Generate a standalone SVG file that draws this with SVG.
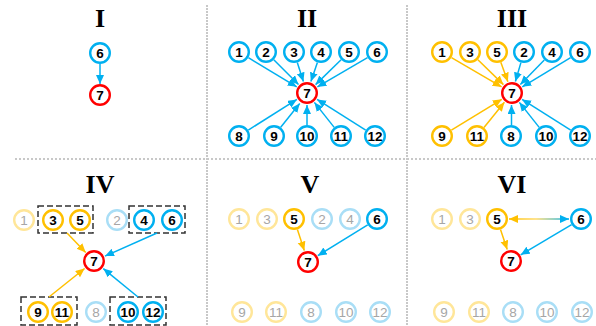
<svg xmlns="http://www.w3.org/2000/svg" width="596" height="326" viewBox="0 0 596 326">
<style>
.title{font-family:"Liberation Serif",serif;font-weight:bold;font-size:26px;text-anchor:middle;fill:#000}
.n circle{fill:#fff;stroke-width:2.4}
.n text{font-family:"Liberation Sans",Arial,sans-serif;font-size:13.5px;font-weight:bold;text-anchor:middle;fill:#000}
.b circle{stroke:#00B0F0}
.o circle{stroke:#FFC000}
.r circle{stroke:#FF0000}
.fb circle{stroke:#A9DEF6}
.fo circle{stroke:#FFE699}
.fb text,.fo text{font-weight:normal;fill:#A6A6A6}
.eb{stroke:#00B0F0;stroke-width:1.5;fill:none;marker-end:url(#ab)}
.eo{stroke:#FFC000;stroke-width:1.5;fill:none;marker-end:url(#ao)}
.box{fill:none;stroke:#333;stroke-width:1.5;stroke-dasharray:6 3}
.sep{stroke:#C8C8C8;stroke-width:2;fill:none}
</style>
<defs>
<marker id="ab" markerUnits="userSpaceOnUse" markerWidth="10" markerHeight="9" refX="9" refY="4" orient="auto"><path d="M0,0 L9,4 L0,8 z" fill="#00B0F0"/></marker>
<marker id="ao" markerUnits="userSpaceOnUse" markerWidth="10" markerHeight="9" refX="9" refY="4" orient="auto"><path d="M0,0 L9,4 L0,8 z" fill="#FFC000"/></marker>
<marker id="aos" markerUnits="userSpaceOnUse" markerWidth="10" markerHeight="9" refX="9" refY="4" orient="auto-start-reverse"><path d="M0,0 L9,4 L0,8 z" fill="#FFC000"/></marker>
<linearGradient id="g56" gradientUnits="userSpaceOnUse" x1="509" y1="0" x2="569" y2="0"><stop offset="0" stop-color="#FFC000"/><stop offset="0.45" stop-color="#FFD966"/><stop offset="1" stop-color="#00B0F0"/></linearGradient>
</defs>
<g id="separators">
<line class="sep" x1="207" y1="5" x2="207" y2="326" stroke-dasharray="2 1"/>
<line class="sep" x1="407" y1="5" x2="407" y2="326" stroke-dasharray="2 1"/>
<line class="sep" x1="15" y1="159" x2="596" y2="159" stroke-dasharray="2 2"/>
</g>
<g id="titles">
<text class="title" x="100" y="27">I</text>
<text class="title" x="307" y="27">II</text>
<text class="title" x="512" y="27">III</text>
<text class="title" x="100" y="193">IV</text>
<text class="title" x="310" y="193">V</text>
<text class="title" x="512" y="193">VI</text>
</g>
<g id="boxes">
<rect class="box" x="38" y="206" width="55" height="27"/>
<rect class="box" x="129" y="206" width="56" height="27"/>
<rect class="box" x="21" y="297" width="56" height="28"/>
<rect class="box" x="110" y="297" width="56" height="28"/>
</g>
<g id="connectors">
<line class="eb" x1="100" y1="64" x2="100" y2="84"/>
<line class="eb" x1="248.4" y1="57.7" x2="296.7" y2="86.8"/>
<line class="eb" x1="273.8" y1="59.8" x2="298.5" y2="84.5"/>
<line class="eb" x1="297.3" y1="62.5" x2="303.4" y2="81.6"/>
<line class="eb" x1="317.4" y1="62.4" x2="310.9" y2="81.6"/>
<line class="eb" x1="341.1" y1="59.7" x2="315.6" y2="84.6"/>
<line class="eb" x1="367.5" y1="57.6" x2="317.4" y2="86.9"/>
<line class="eb" x1="248.3" y1="130.1" x2="296.9" y2="99.4"/>
<line class="eb" x1="280.7" y1="127.3" x2="299.7" y2="103.5"/>
<line class="eb" x1="307" y1="125" x2="307" y2="105"/>
<line class="eb" x1="334.2" y1="127.4" x2="314.4" y2="102.4"/>
<line class="eb" x1="365.7" y1="130.1" x2="317.1" y2="99.4"/>
<line class="eo" x1="451.5" y1="57.6" x2="501.6" y2="86.9"/>
<line class="eo" x1="477.9" y1="59.7" x2="503.4" y2="84.6"/>
<line class="eo" x1="500.8" y1="62.3" x2="507.9" y2="81.7"/>
<line class="eb" x1="520.9" y1="62.6" x2="515.4" y2="81.5"/>
<line class="eb" x1="544.3" y1="59.9" x2="520.4" y2="84.4"/>
<line class="eb" x1="570.6" y1="57.7" x2="522.3" y2="86.8"/>
<line class="eo" x1="451.4" y1="130.2" x2="501.8" y2="99.3"/>
<line class="eo" x1="484" y1="127.5" x2="504.4" y2="102.3"/>
<line class="eb" x1="511.5" y1="125" x2="511.5" y2="105"/>
<line class="eb" x1="539.2" y1="127.4" x2="519.4" y2="102.4"/>
<line class="eb" x1="570.7" y1="130.1" x2="522.1" y2="99.4"/>
<line class="eo" x1="67" y1="233" x2="85.7" y2="252.4"/>
<line class="eb" x1="157" y1="233" x2="105" y2="256.1"/>
<line class="eo" x1="49" y1="297" x2="84.6" y2="268.5"/>
<line class="eb" x1="138" y1="297" x2="103.3" y2="268.6"/>
<line class="eo" x1="297.4" y1="229.5" x2="304.3" y2="250.6"/>
<line class="eb" x1="367.7" y1="224.8" x2="317.8" y2="255.7"/>
<line class="eo" x1="500.5" y1="229.4" x2="507.2" y2="249.6"/>
<line class="eb" x1="571.6" y1="224.7" x2="520.7" y2="254.8"/>
<path d="M509,219 L569,219.01" stroke="url(#g56)" stroke-width="1.5" fill="none" marker-start="url(#aos)" marker-end="url(#ab)"/>
</g>
<g id="p1-6" class="n b"><circle cx="100" cy="53" r="9.8"/><text x="100" y="57.8">6</text></g>
<g id="p1-7" class="n r"><circle cx="100" cy="95" r="9.8"/><text x="100" y="99.8">7</text></g>
<g id="p2-1" class="n b"><circle cx="239" cy="52" r="9.8"/><text x="239" y="56.8">1</text></g>
<g id="p2-2" class="n b"><circle cx="266" cy="52" r="9.8"/><text x="266" y="56.8">2</text></g>
<g id="p2-3" class="n b"><circle cx="294" cy="52" r="9.8"/><text x="294" y="56.8">3</text></g>
<g id="p2-4" class="n b"><circle cx="321" cy="52" r="9.8"/><text x="321" y="56.8">4</text></g>
<g id="p2-5" class="n b"><circle cx="349" cy="52" r="9.8"/><text x="349" y="56.8">5</text></g>
<g id="p2-6" class="n b"><circle cx="377" cy="52" r="9.8"/><text x="377" y="56.8">6</text></g>
<g id="p2-7" class="n r"><circle cx="307" cy="93" r="9.8"/><text x="307" y="97.8">7</text></g>
<g id="p2-8" class="n b"><circle cx="239" cy="136" r="9.8"/><text x="239" y="140.8">8</text></g>
<g id="p2-9" class="n b"><circle cx="274" cy="136" r="9.8"/><text x="274" y="140.8">9</text></g>
<g id="p2-10" class="n b"><circle cx="307" cy="136" r="9.8"/><text x="307" y="140.8">10</text></g>
<g id="p2-11" class="n b"><circle cx="341" cy="136" r="9.8"/><text x="341" y="140.8">11</text></g>
<g id="p2-12" class="n b"><circle cx="375" cy="136" r="9.8"/><text x="375" y="140.8">12</text></g>
<g id="p3-1" class="n o"><circle cx="442" cy="52" r="9.8"/><text x="442" y="56.8">1</text></g>
<g id="p3-3" class="n o"><circle cx="470" cy="52" r="9.8"/><text x="470" y="56.8">3</text></g>
<g id="p3-5" class="n o"><circle cx="497" cy="52" r="9.8"/><text x="497" y="56.8">5</text></g>
<g id="p3-2" class="n b"><circle cx="524" cy="52" r="9.8"/><text x="524" y="56.8">2</text></g>
<g id="p3-4" class="n b"><circle cx="552" cy="52" r="9.8"/><text x="552" y="56.8">4</text></g>
<g id="p3-6" class="n b"><circle cx="580" cy="52" r="9.8"/><text x="580" y="56.8">6</text></g>
<g id="p3-7" class="n r"><circle cx="512" cy="93" r="9.8"/><text x="512" y="97.8">7</text></g>
<g id="p3-9" class="n o"><circle cx="442" cy="136" r="9.8"/><text x="442" y="140.8">9</text></g>
<g id="p3-11" class="n o"><circle cx="477" cy="136" r="9.8"/><text x="477" y="140.8">11</text></g>
<g id="p3-8" class="n b"><circle cx="511" cy="136" r="9.8"/><text x="511" y="140.8">8</text></g>
<g id="p3-10" class="n b"><circle cx="546" cy="136" r="9.8"/><text x="546" y="140.8">10</text></g>
<g id="p3-12" class="n b"><circle cx="580" cy="136" r="9.8"/><text x="580" y="140.8">12</text></g>
<g id="p4-1" class="n fo"><circle cx="24" cy="220" r="9.8"/><text x="24" y="224.8">1</text></g>
<g id="p4-3" class="n o"><circle cx="53" cy="220" r="9.8"/><text x="53" y="224.8">3</text></g>
<g id="p4-5" class="n o"><circle cx="80" cy="220" r="9.8"/><text x="80" y="224.8">5</text></g>
<g id="p4-2" class="n fb"><circle cx="117" cy="220" r="9.8"/><text x="117" y="224.8">2</text></g>
<g id="p4-4" class="n b"><circle cx="144" cy="220" r="9.8"/><text x="144" y="224.8">4</text></g>
<g id="p4-6" class="n b"><circle cx="172" cy="220" r="9.8"/><text x="172" y="224.8">6</text></g>
<g id="p4-7" class="n r"><circle cx="94" cy="261" r="9.8"/><text x="94" y="265.8">7</text></g>
<g id="p4-9" class="n o"><circle cx="38" cy="312" r="9.8"/><text x="38" y="316.8">9</text></g>
<g id="p4-11" class="n o"><circle cx="62" cy="312" r="9.8"/><text x="62" y="316.8">11</text></g>
<g id="p4-8" class="n fb"><circle cx="96" cy="312" r="9.8"/><text x="96" y="316.8">8</text></g>
<g id="p4-10" class="n b"><circle cx="128" cy="312" r="9.8"/><text x="128" y="316.8">10</text></g>
<g id="p4-12" class="n b"><circle cx="153" cy="312" r="9.8"/><text x="153" y="316.8">12</text></g>
<g id="p5-1" class="n fo"><circle cx="239" cy="219" r="9.8"/><text x="239" y="223.8">1</text></g>
<g id="p5-3" class="n fo"><circle cx="267" cy="219" r="9.8"/><text x="267" y="223.8">3</text></g>
<g id="p5-5" class="n o"><circle cx="294" cy="219" r="9.8"/><text x="294" y="223.8">5</text></g>
<g id="p5-2" class="n fb"><circle cx="322" cy="219" r="9.8"/><text x="322" y="223.8">2</text></g>
<g id="p5-4" class="n fb"><circle cx="350" cy="219" r="9.8"/><text x="350" y="223.8">4</text></g>
<g id="p5-6" class="n b"><circle cx="377" cy="219" r="9.8"/><text x="377" y="223.8">6</text></g>
<g id="p5-7" class="n r"><circle cx="308" cy="262" r="9.8"/><text x="308" y="266.8">7</text></g>
<g id="p5-9" class="n fo"><circle cx="242" cy="312" r="9.8"/><text x="242" y="316.8">9</text></g>
<g id="p5-11" class="n fo"><circle cx="276" cy="312" r="9.8"/><text x="276" y="316.8">11</text></g>
<g id="p5-8" class="n fb"><circle cx="311" cy="312" r="9.8"/><text x="311" y="316.8">8</text></g>
<g id="p5-10" class="n fb"><circle cx="346" cy="312" r="9.8"/><text x="346" y="316.8">10</text></g>
<g id="p5-12" class="n fb"><circle cx="380" cy="312" r="9.8"/><text x="380" y="316.8">12</text></g>
<g id="p6-1" class="n fo"><circle cx="442" cy="219" r="9.8"/><text x="442" y="223.8">1</text></g>
<g id="p6-3" class="n fo"><circle cx="470" cy="219" r="9.8"/><text x="470" y="223.8">3</text></g>
<g id="p6-5" class="n o"><circle cx="497" cy="219" r="9.8"/><text x="497" y="223.8">5</text></g>
<g id="p6-6" class="n b"><circle cx="581" cy="219" r="9.8"/><text x="581" y="223.8">6</text></g>
<g id="p6-7" class="n r"><circle cx="511" cy="261" r="9.8"/><text x="511" y="265.8">7</text></g>
<g id="p6-9" class="n fo"><circle cx="444" cy="312" r="9.8"/><text x="444" y="316.8">9</text></g>
<g id="p6-11" class="n fo"><circle cx="479" cy="312" r="9.8"/><text x="479" y="316.8">11</text></g>
<g id="p6-8" class="n fb"><circle cx="513" cy="312" r="9.8"/><text x="513" y="316.8">8</text></g>
<g id="p6-10" class="n fb"><circle cx="547" cy="312" r="9.8"/><text x="547" y="316.8">10</text></g>
<g id="p6-12" class="n fb"><circle cx="582" cy="312" r="9.8"/><text x="582" y="316.8">12</text></g>
</svg>
